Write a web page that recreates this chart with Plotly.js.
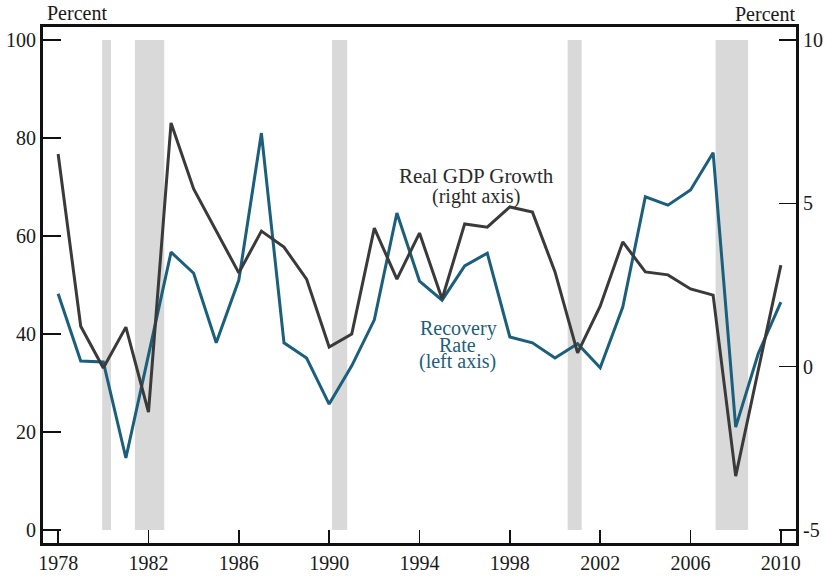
<!DOCTYPE html>
<html>
<head>
<meta charset="utf-8">
<script src="https://cdn.plot.ly/plotly-3.0.1.min.js"></script>
<style>
html,body{margin:0;padding:0;background:#fff;}
#chart{width:826px;height:576px;}
</style>
</head>
<body>
<div id="chart"></div>
<script>
// ---- data ----
var years = [1978,1979,1980,1981,1982,1983,1984,1985,1986,1987,1988,1989,1990,1991,1992,1993,1994,1995,1996,1997,1998,1999,2000,2001,2002,2003,2004,2005,2006,2007,2008,2009,2010];
var recoveryRate = [48.2,34.5,34.3,14.7,35.7,56.7,52.4,38.2,51.0,81.0,38.2,35.1,25.7,33.5,42.9,64.7,50.8,46.9,53.9,56.5,39.4,38.2,35.1,38.0,33.1,45.5,68.0,66.3,69.4,77.0,21.0,36.0,46.5];
var gdpGrowth = [6.51,1.24,-0.04,1.21,-1.39,7.46,5.44,4.14,2.87,4.15,3.66,2.68,0.60,1.00,4.24,2.68,4.09,2.07,4.37,4.27,4.89,4.73,2.90,0.42,1.85,3.82,2.90,2.81,2.38,2.19,-3.35,-0.10,3.11];
var recessionStart = [1979.95,1981.40,1990.13,2000.56,2007.11];
var recessionEnd   = [1980.34,1982.70,1990.80,2001.18,2008.55];
var xTickVals = [1978,1982,1986,1990,1994,1998,2002,2006,2010];
var xTickText = ["1978","1982","1986","1990","1994","1998","2002","2006","2010"];
var leftTickVals = [0,20,40,60,80,100];
var leftTickText = ["0","20","40","60","80","100"];
var rightTickVals = [-5,0,5,10];
var rightTickText = ["-5","0","5","10"];

var FONT = "Liberation Serif, Times New Roman, serif";
var BLUE = "#1b5f7c";
var DARK = "#3a3a3a";

var shapes = recessionStart.map(function(s, i){
  return {type:"rect", xref:"x", yref:"y", x0:s, x1:recessionEnd[i], y0:0, y1:100,
          fillcolor:"#d9d9d9", line:{width:0}, layer:"below"};
});

var traces = [
  {x: years, y: recoveryRate, type:"scatter", mode:"lines", yaxis:"y",
   line:{color:BLUE, width:3}, name:"Recovery Rate", hoverinfo:"skip"},
  {x: years, y: gdpGrowth, type:"scatter", mode:"lines", yaxis:"y2",
   line:{color:DARK, width:3}, name:"Real GDP Growth", hoverinfo:"skip"}
];

var layout = {
  width:826, height:576,
  margin:{l:43, r:30, t:27, b:33, pad:0},
  paper_bgcolor:"#fff", plot_bgcolor:"#fff",
  showlegend:false,
  font:{family:FONT, size:20, color:"#1a1a1a"},
  xaxis:{range:[1977.33,2010.67], tickvals:xTickVals, ticktext:xTickText,
         ticks:"inside", ticklen:13, tickwidth:1.5, tickcolor:"#111",
         showline:true, linewidth:3, linecolor:"#111", mirror:true,
         showgrid:false, zeroline:false, fixedrange:true,
         tickfont:{family:FONT, size:20, color:"#1a1a1a"}},
  yaxis:{range:[-2.65,102.65], tickvals:leftTickVals, ticktext:leftTickText,
         ticks:"inside", ticklen:18, tickwidth:1.5, tickcolor:"#111",
         showline:true, linewidth:3, linecolor:"#111",
         showgrid:false, zeroline:false, fixedrange:true,
         tickfont:{family:FONT, size:20, color:"#1a1a1a"}},
  yaxis2:{range:[-5.3975,10.3975], overlaying:"y", side:"right",
         tickvals:rightTickVals, ticktext:rightTickText,
         ticks:"inside", ticklen:17, tickwidth:1.5, tickcolor:"#111",
         showline:true, linewidth:3, linecolor:"#111",
         showgrid:false, zeroline:false, fixedrange:true,
         tickfont:{family:FONT, size:20, color:"#1a1a1a"}},
  shapes: shapes,
  annotations:[
    {xref:"paper", yref:"paper", x:0.003, y:1.027, xanchor:"left", yanchor:"middle",
     text:"Percent", showarrow:false, font:{family:FONT, size:20, color:"#1a1a1a"}},
    {xref:"paper", yref:"paper", x:1.001, y:1.025, xanchor:"right", yanchor:"middle",
     text:"Percent", showarrow:false, font:{family:FONT, size:20, color:"#1a1a1a"}},
    {xref:"x", yref:"y", x:1996.52, y:72.2, xanchor:"center", yanchor:"middle",
     text:"Real GDP Growth", showarrow:false, font:{family:FONT, size:21, color:"#2a2a2a"}},
    {xref:"x", yref:"y", x:1996.52, y:68.0, xanchor:"center", yanchor:"middle",
     text:"(right axis)", showarrow:false, font:{family:FONT, size:20, color:"#2a2a2a"}},
    {xref:"x", yref:"y", x:1995.72, y:41.2, xanchor:"center", yanchor:"middle",
     text:"Recovery", showarrow:false, font:{family:FONT, size:20, color:BLUE}},
    {xref:"x", yref:"y", x:1995.70, y:37.8, xanchor:"center", yanchor:"middle",
     text:"Rate", showarrow:false, font:{family:FONT, size:20, color:BLUE}},
    {xref:"x", yref:"y", x:1995.70, y:34.3, xanchor:"center", yanchor:"middle",
     text:"(left axis)", showarrow:false, font:{family:FONT, size:20, color:BLUE}}
  ]
};

Plotly.newPlot("chart", traces, layout, {staticPlot:true, displayModeBar:false});
</script>
</body>
</html>
